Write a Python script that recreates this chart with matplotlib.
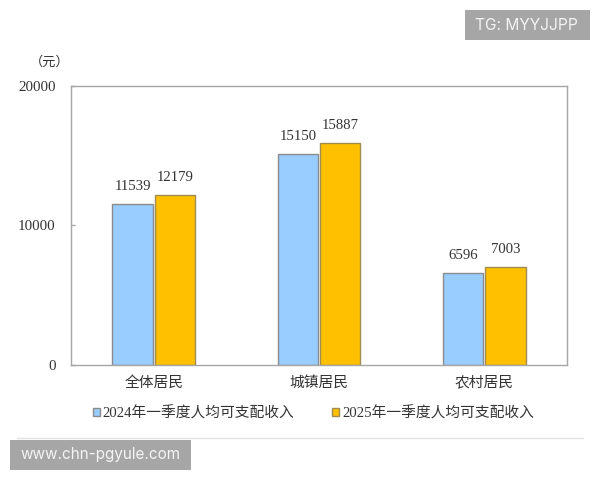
"""Per capita disposable income, Q1 2024 vs Q1 2025."""

import numpy as np
import matplotlib
matplotlib.use("Agg")
import matplotlib.pyplot as plt
from matplotlib.patches import Rectangle

categories = ["全体居民", "城镇居民", "农村居民"]
values_2024 = [11539, 15150, 6596]
values_2025 = [12179, 15887, 7003]
series_names = ["2024年一季度人均可支配收入", "2025年一季度人均可支配收入"]
y_ticks = [0, 10000, 20000]

plt.rcParams["font.family"] = ["Liberation Serif", "Noto Sans CJK SC", "DejaVu Sans"]

W, H = 600, 480
GREY = "#A6A6A6"
TEXT = "#333333"
BLUE = "#99CCFF"
ORANGE = "#FFC000"

fig = plt.figure(figsize=(W / 100, H / 100), dpi=100)
ax = fig.add_axes([71 / W, 1 - 365 / H, 496 / W, 279 / H])

x = np.arange(len(categories))
bar_w = 0.244
off = 0.128
bars1 = ax.bar(x - off, values_2024, bar_w, color=BLUE, edgecolor="#8C8C8C", linewidth=1.0,
               label=series_names[0])
bars2 = ax.bar(x + off, values_2025, bar_w, color=ORANGE, edgecolor="#A08C50", linewidth=1.0,
               label=series_names[1])

for bars in (bars1, bars2):
    for b in bars:
        ax.annotate(str(int(b.get_height())), (b.get_x() + b.get_width() / 2, b.get_height()),
                    xytext=(0, 8), textcoords="offset points", ha="center", va="bottom",
                    fontsize=10.6, color=TEXT)

ax.set_xlim(-0.5, 2.5)
ax.set_ylim(0, 20000)
ax.set_xticks(x, categories, fontsize=10.6, color=TEXT)
ax.set_yticks(y_ticks, [str(v) for v in y_ticks], fontsize=10.8, color=TEXT)
ax.tick_params(axis="x", length=0, pad=8)
ax.tick_params(axis="y", direction="in", length=3, width=1, color=GREY, pad=11)
for s in ax.spines.values():
    s.set_color(GREY)
    s.set_linewidth(1.0)

fig.legend(handles=[bars1, bars2], loc="center left", bbox_to_anchor=(93 / W, 1 - 413 / H), ncols=2,
           frameon=False, fontsize=10.6, labelcolor=TEXT, handlelength=0.47, handleheight=0.47,
           handletextpad=0.2, columnspacing=2.55, borderpad=0, borderaxespad=0)

fig.text(30 / W, 1 - 62 / H, "（元）", fontsize=9.5, color=TEXT, va="center", ha="left")

# watermark boxes and rule
fig.add_artist(plt.Line2D([17 / W, 583 / W], [1 - 438 / H, 1 - 438 / H], color="#E2E2E2", linewidth=1))
fig.add_artist(Rectangle((465 / W, 1 - 40 / H), 125 / W, 30 / H, transform=fig.transFigure,
                         facecolor=GREY, edgecolor="none"))
fig.add_artist(Rectangle((10 / W, 1 - 470 / H), 181 / W, 30 / H, transform=fig.transFigure,
                         facecolor=GREY, edgecolor="none"))
fig.text(526 / W, 1 - 25 / H, "TG: MYYJJPP", family="Inter", fontsize=11.2, color="#F4F4F4",
         ha="center", va="center")
fig.text(100.5 / W, 1 - 455 / H, "www.chn-pgyule.com", family="Inter", fontsize=11, color="#F4F4F4",
         ha="center", va="center")

fig.savefig("out.png", dpi=100)
